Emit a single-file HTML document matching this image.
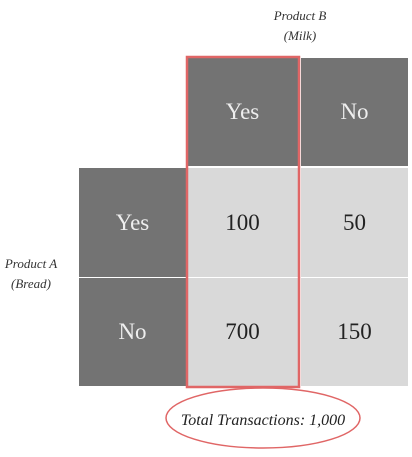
<!DOCTYPE html>
<html><head><style>
body{margin:0;width:412px;height:457px;background:#fff;position:relative;overflow:hidden;font-family:"Liberation Serif",serif}
.c{position:absolute;display:flex;align-items:center;justify-content:center;font-size:23px}
.d{background:#737373;color:#eee}
.l{background:#d9d9d9;color:#222}
.t{position:absolute;font-style:italic;font-size:13px;color:#333;text-align:center;line-height:20px}
</style></head><body>
<div class="t" style="left:250px;top:6px;width:100px">Product B<br>(Milk)</div>
<div class="t" style="left:0;top:254px;width:62px">Product A<br>(Bread)</div>
<div class="c d" style="left:187px;top:58px;width:111px;height:108px">Yes</div>
<div class="c d" style="left:301px;top:58px;width:107px;height:108px">No</div>
<div class="c d" style="left:79px;top:168px;width:107px;height:109px">Yes</div>
<div class="c l" style="left:187px;top:168px;width:111px;height:109px">100</div>
<div class="c l" style="left:301px;top:168px;width:107px;height:109px">50</div>
<div class="c d" style="left:79px;top:278px;width:107px;height:108px">No</div>
<div class="c l" style="left:187px;top:278px;width:111px;height:108px">700</div>
<div class="c l" style="left:301px;top:278px;width:107px;height:108px">150</div>
<svg style="position:absolute;left:0;top:0" width="412" height="457">
<rect x="187" y="57" width="112" height="330" fill="none" stroke="#e06666" stroke-width="2.5"/>
<ellipse cx="263" cy="418" rx="97" ry="30" fill="none" stroke="#e06666" stroke-width="1.5"/>
<text x="263" y="425" text-anchor="middle" font-family="Liberation Serif,serif" font-style="italic" font-size="16" fill="#222">Total Transactions: 1,000</text>
</svg>
</body></html>
